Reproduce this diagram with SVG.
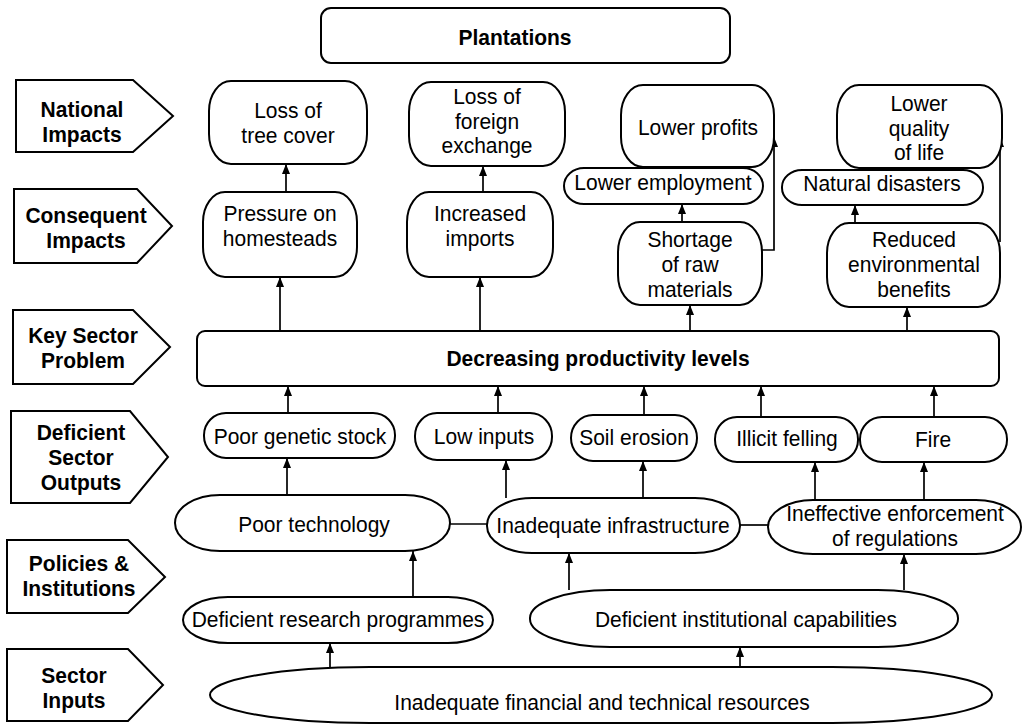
<svg xmlns="http://www.w3.org/2000/svg" width="1023" height="727" viewBox="0 0 1023 727">
  <style>
    .box { fill: #fff; stroke: #000; stroke-width: 2; }
    .tag { fill: #fff; stroke: #000; stroke-width: 2; stroke-linejoin: miter; }
    .t { font-family: "Liberation Sans", Arial, sans-serif; font-size: 21px; text-anchor: middle; fill: #000; }
    .b { font-weight: bold; }
    .ln { stroke: #000; stroke-width: 1.7; fill: none; }
    .ar { marker-end: url(#ah); }
  </style>
  <defs>
    <marker id="ah" viewBox="0 0 10 8" refX="10" refY="4" markerWidth="10" markerHeight="8" markerUnits="userSpaceOnUse" orient="auto">
      <path d="M0,0 L10,4 L0,8 z" fill="#000"/>
    </marker>
  </defs>
  <rect width="1023" height="727" fill="#fff"/>

  <!-- level tags on the left -->
  <g id="tag-national">
    <polygon class="tag" points="16,80 133,80 173,116 133,152 16,152"/>
    <text class="t b" transform="matrix(1 0 0 1.04 82 117)"><tspan x="0">National</tspan><tspan x="0" dy="24">Impacts</tspan></text>
  </g>
  <g id="tag-consequent">
    <polygon class="tag" points="14,189 137,189 172,226 137,263 14,263"/>
    <text class="t b" transform="matrix(1 0 0 1.04 86 223)"><tspan x="0">Consequent</tspan><tspan x="0" dy="24">Impacts</tspan></text>
  </g>
  <g id="tag-key">
    <polygon class="tag" points="13,310 133,310 170,347 133,384 13,384"/>
    <text class="t b" transform="matrix(1 0 0 1.04 83 343)"><tspan x="0">Key Sector</tspan><tspan x="0" dy="24">Problem</tspan></text>
  </g>
  <g id="tag-outputs">
    <polygon class="tag" points="11,411 130,411 168,457 130,503 11,503"/>
    <text class="t b" transform="matrix(1 0 0 1.04 81 440)"><tspan x="0">Deficient</tspan><tspan x="0" dy="24">Sector</tspan><tspan x="0" dy="24">Outputs</tspan></text>
  </g>
  <g id="tag-policies">
    <polygon class="tag" points="7,540 128,540 165,577 128,613 7,613"/>
    <text class="t b" transform="matrix(1 0 0 1.04 79 571)"><tspan x="0">Policies &amp;</tspan><tspan x="0" dy="24">Institutions</tspan></text>
  </g>
  <g id="tag-inputs">
    <polygon class="tag" points="7,649 128,649 163,685 128,721 7,721"/>
    <text class="t b" transform="matrix(1 0 0 1.04 74 683)"><tspan x="0">Sector</tspan><tspan x="0" dy="24">Inputs</tspan></text>
  </g>

  <!-- connectors -->
  <g id="connectors">
    <line class="ln ar" x1="286" y1="192" x2="286" y2="164"/>
    <line class="ln ar" x1="483" y1="192" x2="483" y2="166"/>
    <line class="ln ar" x1="682" y1="222" x2="682" y2="204"/>
    <path class="ln ar" d="M760,250 H774 V137"/>
    <line class="ln ar" x1="855" y1="223" x2="855" y2="205"/>
    <path class="ln ar" d="M1000,242 V137"/>

    <line class="ln ar" x1="280" y1="331" x2="280" y2="277"/>
    <line class="ln ar" x1="480" y1="331" x2="480" y2="277"/>
    <line class="ln ar" x1="690" y1="331" x2="690" y2="305"/>
    <line class="ln ar" x1="907" y1="331" x2="907" y2="307"/>

    <line class="ln ar" x1="288" y1="413" x2="288" y2="386"/>
    <line class="ln ar" x1="498" y1="413" x2="498" y2="386"/>
    <line class="ln ar" x1="644" y1="415" x2="644" y2="386"/>
    <line class="ln ar" x1="761" y1="417" x2="761" y2="386"/>
    <line class="ln ar" x1="934" y1="427" x2="934" y2="386"/>

    <line class="ln ar" x1="287" y1="495" x2="287" y2="458"/>
    <line class="ln ar" x1="506" y1="498" x2="506" y2="460"/>
    <line class="ln ar" x1="643" y1="498" x2="643" y2="461"/>
    <line class="ln ar" x1="815" y1="500" x2="815" y2="462"/>
    <line class="ln ar" x1="924" y1="500" x2="924" y2="462"/>

    <line class="ln" x1="450" y1="524" x2="487" y2="524"/>
    <line class="ln" x1="740" y1="525" x2="768" y2="525"/>

    <line class="ln ar" x1="413" y1="597" x2="413" y2="551"/>
    <line class="ln ar" x1="569" y1="590" x2="569" y2="553"/>
    <line class="ln ar" x1="904" y1="590" x2="904" y2="554"/>

    <line class="ln ar" x1="330" y1="668" x2="330" y2="643"/>
    <line class="ln ar" x1="740" y1="673" x2="740" y2="647"/>
  </g>

  <!-- title -->
  <g id="plantations">
    <rect class="box" x="321" y="8" width="409" height="55" rx="10"/>
    <text class="t b" transform="matrix(1 0 0 1.04 515 45)">Plantations</text>
  </g>

  <!-- national impacts -->
  <g id="loss-tree-cover">
    <rect class="box" x="209" y="81" width="158" height="83" rx="22" ry="30"/>
    <text class="t" transform="matrix(1 0 0 1.04 288 118)"><tspan x="0">Loss of</tspan><tspan x="0" dy="24">tree cover</tspan></text>
  </g>
  <g id="loss-foreign-exchange">
    <rect class="box" x="409" y="82" width="156" height="84" rx="22" ry="30"/>
    <text class="t" transform="matrix(1 0 0 1.04 487 104)"><tspan x="0">Loss of</tspan><tspan x="0" dy="23.6">foreign</tspan><tspan x="0" dy="23.6">exchange</tspan></text>
  </g>
  <g id="lower-profits">
    <rect class="box" x="621" y="85" width="153" height="82" rx="22" ry="30"/>
    <text class="t" transform="matrix(1 0 0 1.04 698 135)">Lower profits</text>
  </g>
  <g id="lower-quality-of-life">
    <rect class="box" x="837" y="85" width="165" height="83" rx="22" ry="30"/>
    <text class="t" transform="matrix(1 0 0 1.04 919 111)"><tspan x="0">Lower</tspan><tspan x="0" dy="23.6">quality</tspan><tspan x="0" dy="23.6">of life</tspan></text>
  </g>
  <g id="lower-employment">
    <rect class="box" x="564" y="168" width="199" height="36" rx="20" ry="18"/>
    <text class="t" transform="matrix(1 0 0 1.04 663 190)">Lower employment</text>
  </g>
  <g id="natural-disasters">
    <rect class="box" x="782" y="170" width="201" height="35" rx="20" ry="17"/>
    <text class="t" transform="matrix(1 0 0 1.04 882 191)">Natural disasters</text>
  </g>

  <!-- consequent impacts -->
  <g id="pressure-homesteads">
    <rect class="box" x="203" y="192" width="154" height="85" rx="22" ry="30"/>
    <text class="t" transform="matrix(1 0 0 1.04 280 221)"><tspan x="0">Pressure on</tspan><tspan x="0" dy="24">homesteads</tspan></text>
  </g>
  <g id="increased-imports">
    <rect class="box" x="407" y="192" width="146" height="85" rx="22" ry="30"/>
    <text class="t" transform="matrix(1 0 0 1.04 480 221)"><tspan x="0">Increased</tspan><tspan x="0" dy="24">imports</tspan></text>
  </g>
  <g id="shortage-raw-materials">
    <rect class="box" x="618" y="222" width="144" height="83" rx="22" ry="30"/>
    <text class="t" transform="matrix(1 0 0 1.04 690 247)"><tspan x="0">Shortage</tspan><tspan x="0" dy="24">of raw</tspan><tspan x="0" dy="24">materials</tspan></text>
  </g>
  <g id="reduced-environmental-benefits">
    <rect class="box" x="827" y="223" width="173" height="84" rx="22" ry="30"/>
    <text class="t" transform="matrix(1 0 0 1.04 914 247)"><tspan x="0">Reduced</tspan><tspan x="0" dy="24">environmental</tspan><tspan x="0" dy="24">benefits</tspan></text>
  </g>

  <!-- key sector problem -->
  <g id="decreasing-productivity">
    <rect class="box" x="197" y="331" width="802" height="55" rx="8"/>
    <text class="t b" transform="matrix(1 0 0 1.04 598 366)">Decreasing productivity levels</text>
  </g>

  <!-- deficient sector outputs -->
  <g id="poor-genetic-stock">
    <rect class="box" x="204" y="413" width="191" height="45" rx="22" ry="22"/>
    <text class="t" transform="matrix(1 0 0 1.04 300 444)">Poor genetic stock</text>
  </g>
  <g id="low-inputs">
    <rect class="box" x="415" y="413" width="137" height="47" rx="22" ry="23"/>
    <text class="t" transform="matrix(1 0 0 1.04 484 444)">Low inputs</text>
  </g>
  <g id="soil-erosion">
    <rect class="box" x="571" y="415" width="126" height="46" rx="22" ry="23"/>
    <text class="t" transform="matrix(1 0 0 1.04 634 445)">Soil erosion</text>
  </g>
  <g id="illicit-felling">
    <rect class="box" x="715" y="417" width="143" height="45" rx="22" ry="22"/>
    <text class="t" transform="matrix(1 0 0 1.04 787 446)">Illicit felling</text>
  </g>
  <g id="fire">
    <rect class="box" x="860" y="417" width="147" height="45" rx="22" ry="22"/>
    <text class="t" transform="matrix(1 0 0 1.04 933 447)">Fire</text>
  </g>

  <!-- policies and institutions -->
  <g id="poor-technology">
    <rect class="box" x="175" y="495" width="275" height="56" rx="45" ry="28"/>
    <text class="t" transform="matrix(1 0 0 1.04 314 532)">Poor technology</text>
  </g>
  <g id="inadequate-infrastructure">
    <rect class="box" x="487" y="498" width="253" height="55" rx="45" ry="27"/>
    <text class="t" transform="matrix(1 0 0 1.04 613 533)">Inadequate infrastructure</text>
  </g>
  <g id="ineffective-enforcement">
    <rect class="box" x="768" y="500" width="253" height="54" rx="45" ry="27"/>
    <text class="t" transform="matrix(1 0 0 1.04 895 521)"><tspan x="0">Ineffective enforcement</tspan><tspan x="0" dy="24">of regulations</tspan></text>
  </g>
  <g id="deficient-research">
    <rect class="box" x="183" y="597" width="310" height="46" rx="45" ry="23"/>
    <text class="t" transform="matrix(1 0 0 1.04 338 627)">Deficient research programmes</text>
  </g>
  <g id="deficient-institutional">
    <rect class="box" x="530" y="590" width="428" height="57" rx="80" ry="28"/>
    <text class="t" transform="matrix(1 0 0 1.04 746 627)">Deficient institutional capabilities</text>
  </g>

  <!-- sector inputs -->
  <g id="inadequate-resources">
    <rect class="box" x="210" y="667" width="782" height="56" rx="160" ry="28"/>
    <text class="t" transform="matrix(1 0 0 1.04 602 710)">Inadequate financial and technical resources</text>
  </g>
</svg>
